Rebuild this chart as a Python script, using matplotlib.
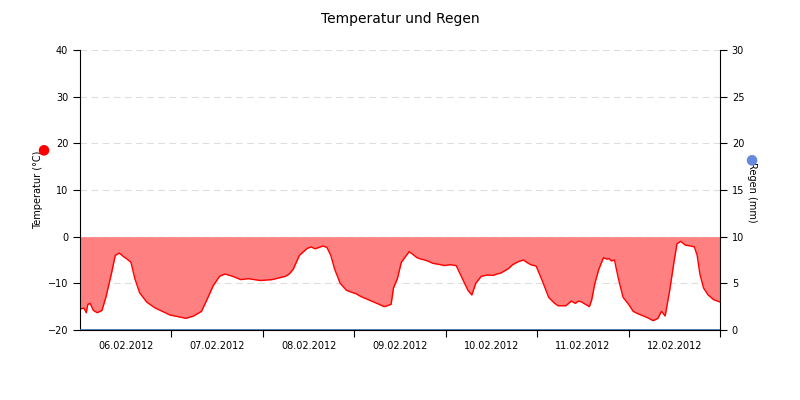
import numpy as np
import matplotlib
matplotlib.use('Agg')
import matplotlib.pyplot as plt

# temperature trace: day offset from 06.02.2012 00:00 and temperature in °C
days = [0.0, 0.05, 0.08, 0.1, 0.13, 0.17, 0.22, 0.28, 0.33, 0.4, 0.45, 0.5, 0.55, 0.6, 0.65,
        0.7, 0.76, 0.85, 0.95, 1.05, 1.15, 1.21, 1.27, 1.35, 1.45, 1.55, 1.62, 1.7, 1.78, 1.85,
        1.95, 2.05, 2.15, 2.3, 2.45, 2.55, 2.62, 2.67, 2.72, 2.8, 2.9, 2.95, 3.0, 3.05, 3.1,
        3.15, 3.2, 3.25, 3.32, 3.4, 3.48, 3.52, 3.58, 3.65, 3.75, 3.83, 3.88, 3.92, 3.97, 4.0,
        4.05, 4.1, 4.2, 4.3, 4.35, 4.4, 4.45, 4.5, 4.6, 4.65, 4.72, 4.8, 4.88, 4.95, 5.0,
        5.05, 5.12, 5.2, 5.27, 5.32, 5.37, 5.42, 5.47, 5.52, 5.6, 5.66, 5.7, 5.75, 5.82,
        5.9, 5.98, 6.05, 6.1, 6.2, 6.27, 6.32, 6.36, 6.4, 6.45, 6.5, 6.53, 6.57,
        6.62, 6.68, 6.72, 6.75, 6.78, 6.82, 6.87, 6.93, 7.0]
temp = [-15.5, -15.3, -16.3, -14.5, -14.3, -15.8, -16.3, -15.8, -13.0, -8.0, -4.0, -3.5, -4.2, -4.8, -5.5,
        -9.0, -12.0, -14.0, -15.2, -16.0, -16.8, -17.0, -17.2, -17.5, -17.0, -16.0, -13.5, -10.5, -8.5, -8.0,
        -8.5, -9.2, -9.0, -9.4, -9.2, -8.8, -8.5, -8.0, -7.0, -4.0, -2.5, -2.2, -2.6, -2.3, -2.0,
        -2.3, -4.0, -7.0, -10.0, -11.5, -12.0, -12.2, -12.8, -13.3, -14.0, -14.6, -15.0, -14.8, -14.5, -11.0,
        -9.0, -5.5, -3.2, -4.5, -4.8, -5.0, -5.3, -5.7, -6.0, -6.2, -6.0, -6.2, -9.0, -11.5, -12.5,
        -10.0, -8.5, -8.2, -8.3, -8.0, -7.8, -7.3, -6.8, -6.0, -5.3, -5.0, -5.5, -6.0, -6.3,
        -9.5, -13.0, -14.2, -14.8, -14.8, -13.8, -14.3, -13.8, -14.0, -14.5, -15.0, -13.5, -10.0,
        -7.0, -4.5, -4.8, -4.7, -5.2, -5.0, -9.0, -13.0, -14.5]
days_b = [7.05, 7.1, 7.2, 7.27, 7.32, 7.36, 7.4, 7.45, 7.5, 7.53, 7.57,
          7.62, 7.68, 7.72, 7.75, 7.78, 7.82, 7.87, 7.93, 8.0]
temp_b = [-16.0, -16.5, -17.3, -18.0, -17.5, -16.0, -17.0, -11.5, -5.0, -1.5, -1.0,
          -1.8, -2.0, -2.2, -4.0, -8.0, -11.0, -12.5, -13.5, -14.0]
rain_days = [0.0, 7.0]
rain = [0.0, 0.0]
date_labels = ['06.02.2012', '07.02.2012', '08.02.2012', '09.02.2012',
               '10.02.2012', '11.02.2012', '12.02.2012']

# the main trace covers 06.-11.02 (0..6 days), the tail is 12.02 shifted by one day
x = [d * 6.0 / 7.0 for d in days] + [d - 1.0 for d in days_b]
y = temp + temp_b

plt.rcParams['font.family'] = ['DejaVu Sans']
fig = plt.figure(figsize=(8, 4), dpi=100)
ax = fig.add_axes([0.1, 0.175, 0.8, 0.7])
ax.fill_between(x, y, 0, color='#ff8080', linewidth=0)
ax.plot(x, y, color='red', linewidth=1)
ax.set_xlim(0, 7)
ax.set_ylim(-20, 40)
ax.set_yticks(range(-20, 41, 10))
ax.grid(axis='y', color='#dddddd', linestyle=(0, (6, 4)), linewidth=0.8)
ax.set_axisbelow(True)
ax.set_xticks(range(1, 8))
ax.set_xticklabels([])
ax.set_xticks(np.arange(0.5, 7, 1), minor=True)
ax.set_xticklabels(date_labels, minor=True)
ax.tick_params(axis='x', which='minor', length=0, labelsize=7, pad=8)
ax.tick_params(axis='x', which='major', length=5)
ax.tick_params(axis='y', labelsize=7, length=5)
for s in ['top', 'right']:
    ax.spines[s].set_visible(False)
ax.set_ylabel('Temperatur (°C)', fontsize=7)
ax.yaxis.set_label_coords(-0.058, 0.5)

ax2 = ax.twinx()
ax2.plot(rain_days, rain, color='#4572a7', linewidth=2)
ax2.set_ylim(0, 30)
ax2.set_yticks(range(0, 31, 5))
ax2.tick_params(axis='y', labelsize=7, length=5)
for s in ['top', 'left', 'bottom']:
    ax2.spines[s].set_visible(False)
ax2.set_ylabel('Regen (mm)', fontsize=7, rotation=-90, va='center')
ax2.yaxis.set_label_coords(1.05, 0.49)

fig.text(0.054, 0.627, '●', color='red', fontsize=10, ha='center', va='center')
fig.text(0.939, 0.602, '●', color='#6688dd', fontsize=10, ha='center', va='center')
fig.suptitle('Temperatur und Regen', fontsize=10, y=0.97)
fig.savefig('out.png')
